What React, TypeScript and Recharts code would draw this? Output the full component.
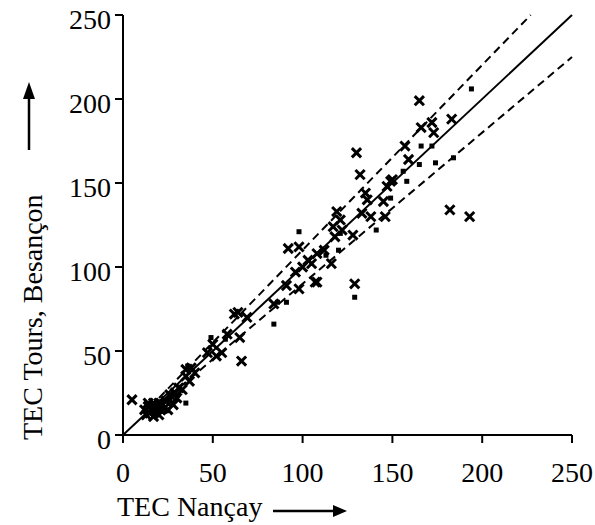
import {
  Label,
  ReferenceLine,
  Scatter,
  ScatterChart,
  XAxis,
  YAxis,
} from "recharts";

// crosses (x = Nançay, y = Tours/Besançon)
const crossX = [
  5, 12, 13, 14, 15, 16, 17, 18, 19, 20, 21, 22, 24, 26, 28, 29, 30, 31, 33,
  35, 35, 37, 38, 40, 47, 50, 52, 55, 58, 62, 64, 65, 66, 69, 84, 91, 92, 96,
  98, 98, 100, 103, 105, 107, 108, 108, 112, 116, 117, 118, 119, 121, 122,
  128, 129, 130, 132, 133, 135, 136, 138, 145, 146, 147, 149, 150, 157, 159,
  165, 166, 172, 173, 182, 183, 193, 14, 17, 20, 23, 25,
];
const crossY = [
  21, 15, 12, 17, 13, 16, 11, 14, 17, 12, 15, 18, 20, 24, 18, 25, 22, 28, 27,
  35, 39, 32, 40, 37, 49, 54, 47, 49, 60, 72, 73, 58, 44, 70, 78, 89, 111, 97,
  87, 112, 100, 104, 102, 91, 108, 91, 110, 102, 124, 118, 133, 128, 122, 119,
  90, 168, 155, 132, 144, 140, 130, 139, 130, 148, 151, 152, 172, 164, 199,
  183, 186, 180, 134, 188, 130, 19, 19, 19, 16, 15,
];

// small square dots
const dotX = [
  13, 15, 17, 19, 21, 23, 26, 35, 36, 49, 57, 84, 86, 91, 98, 113, 120, 121,
  129, 141, 149, 156, 158, 165, 166, 172, 174, 184, 194,
];
const dotY = [
  13, 17, 14, 12, 17, 14, 21, 19, 41, 58, 57, 66, 79, 79, 121, 107, 110, 120,
  82, 122, 141, 157, 151, 161, 172, 172, 162, 165, 206,
];

const axisTicks = [0, 50, 100, 150, 200, 250];

// y = x and the +/-10 % band
const fitLine = [
  { x: 0, y: 0 },
  { x: 250, y: 250 },
];
const upperBand = [
  { x: 15, y: 16.5 },
  { x: 227, y: 250 },
];
const lowerBand = [
  { x: 15, y: 13.5 },
  { x: 250, y: 225 },
];

const crosses = crossX.map((x, i) => ({ x, y: crossY[i] }));
const dots = dotX.map((x, i) => ({ x, y: dotY[i] }));

const FONT = "'Liberation Serif', 'Times New Roman', serif";

function XMark(props: any) {
  const { cx, cy } = props;
  const r = 4.6;
  return (
    <path
      d={`M${cx - r},${cy - r}L${cx + r},${cy + r}M${cx - r},${cy + r}L${cx + r},${cy - r}`}
      stroke="#000"
      strokeWidth={3}
    />
  );
}

function SquareDot(props: any) {
  const { cx, cy } = props;
  return <rect x={cx - 2.5} y={cy - 2.5} width={5} height={5} fill="#000" />;
}

function XTick(props: any) {
  const { x, y, payload } = props;
  return (
    <text x={x} y={y + 37} textAnchor="middle" fontFamily={FONT} fontSize={28} fill="#000">
      {payload.value}
    </text>
  );
}

function YTick(props: any) {
  const { x, y, payload } = props;
  return (
    <text x={x - 2} y={y + 14} textAnchor="end" fontFamily={FONT} fontSize={28} fill="#000">
      {payload.value}
    </text>
  );
}

function XTitle(props: any) {
  const { x, y } = props.viewBox;
  const ty = y + 81;
  const ax = x + 150;
  return (
    <g>
      <text x={x - 6} y={ty} fontFamily={FONT} fontSize={28} fill="#000">
        TEC Nançay
      </text>
      <line x1={ax} y1={ty - 5} x2={ax + 62} y2={ty - 5} stroke="#000" strokeWidth={2.5} />
      <path d={`M${ax + 74},${ty - 5}L${ax + 60},${ty - 11}L${ax + 60},${ty + 1}Z`} fill="#000" />
    </g>
  );
}

function YTitle(props: any) {
  const { y, height } = props.viewBox;
  const bottom = y + height + 5;
  const ax = 29;
  return (
    <g>
      <text
        transform={`translate(42,${bottom}) rotate(-90)`}
        fontFamily={FONT}
        fontSize={28}
        fill="#000"
        stroke="none"
      >
        TEC Tours, Besançon
      </text>
      <line x1={ax} y1={150} x2={ax} y2={96} stroke="#000" strokeWidth={2.5} />
      <path d={`M${ax},${82}L${ax - 6},${99}L${ax + 6},${99}Z`} fill="#000" />
    </g>
  );
}

export default function App() {
  return (
    <div style={{ position: "absolute", left: 0, top: 0, background: "#fff" }}>
      <ScatterChart
        width={595}
        height={525}
        margin={{ top: 15, right: 23, bottom: 0, left: 0 }}
      >
        <XAxis
          type="number"
          dataKey="x"
          domain={[0, 250]}
          ticks={axisTicks}
          height={90}
          tickSize={8}
          tick={<XTick />}
          axisLine={{ stroke: "#000", strokeWidth: 2 }}
          tickLine={{ stroke: "#000", strokeWidth: 2 }}
        >
          <Label content={<XTitle />} />
        </XAxis>
        <YAxis
          type="number"
          dataKey="y"
          domain={[0, 250]}
          ticks={axisTicks}
          width={123}
          tickSize={8}
          tick={<YTick />}
          axisLine={{ stroke: "#000", strokeWidth: 2 }}
          tickLine={{ stroke: "#000", strokeWidth: 2 }}
        >
          <Label content={<YTitle />} />
        </YAxis>
        <ReferenceLine segment={fitLine} stroke="#000" strokeWidth={2} ifOverflow="visible" />
        <ReferenceLine
          segment={upperBand}
          stroke="#000"
          strokeWidth={2}
          strokeDasharray="8 5"
          ifOverflow="visible"
        />
        <ReferenceLine
          segment={lowerBand}
          stroke="#000"
          strokeWidth={2}
          strokeDasharray="8 5"
          ifOverflow="visible"
        />
        <Scatter data={crosses} shape={<XMark />} isAnimationActive={false} />
        <Scatter data={dots} shape={<SquareDot />} isAnimationActive={false} />
      </ScatterChart>
    </div>
  );
}
